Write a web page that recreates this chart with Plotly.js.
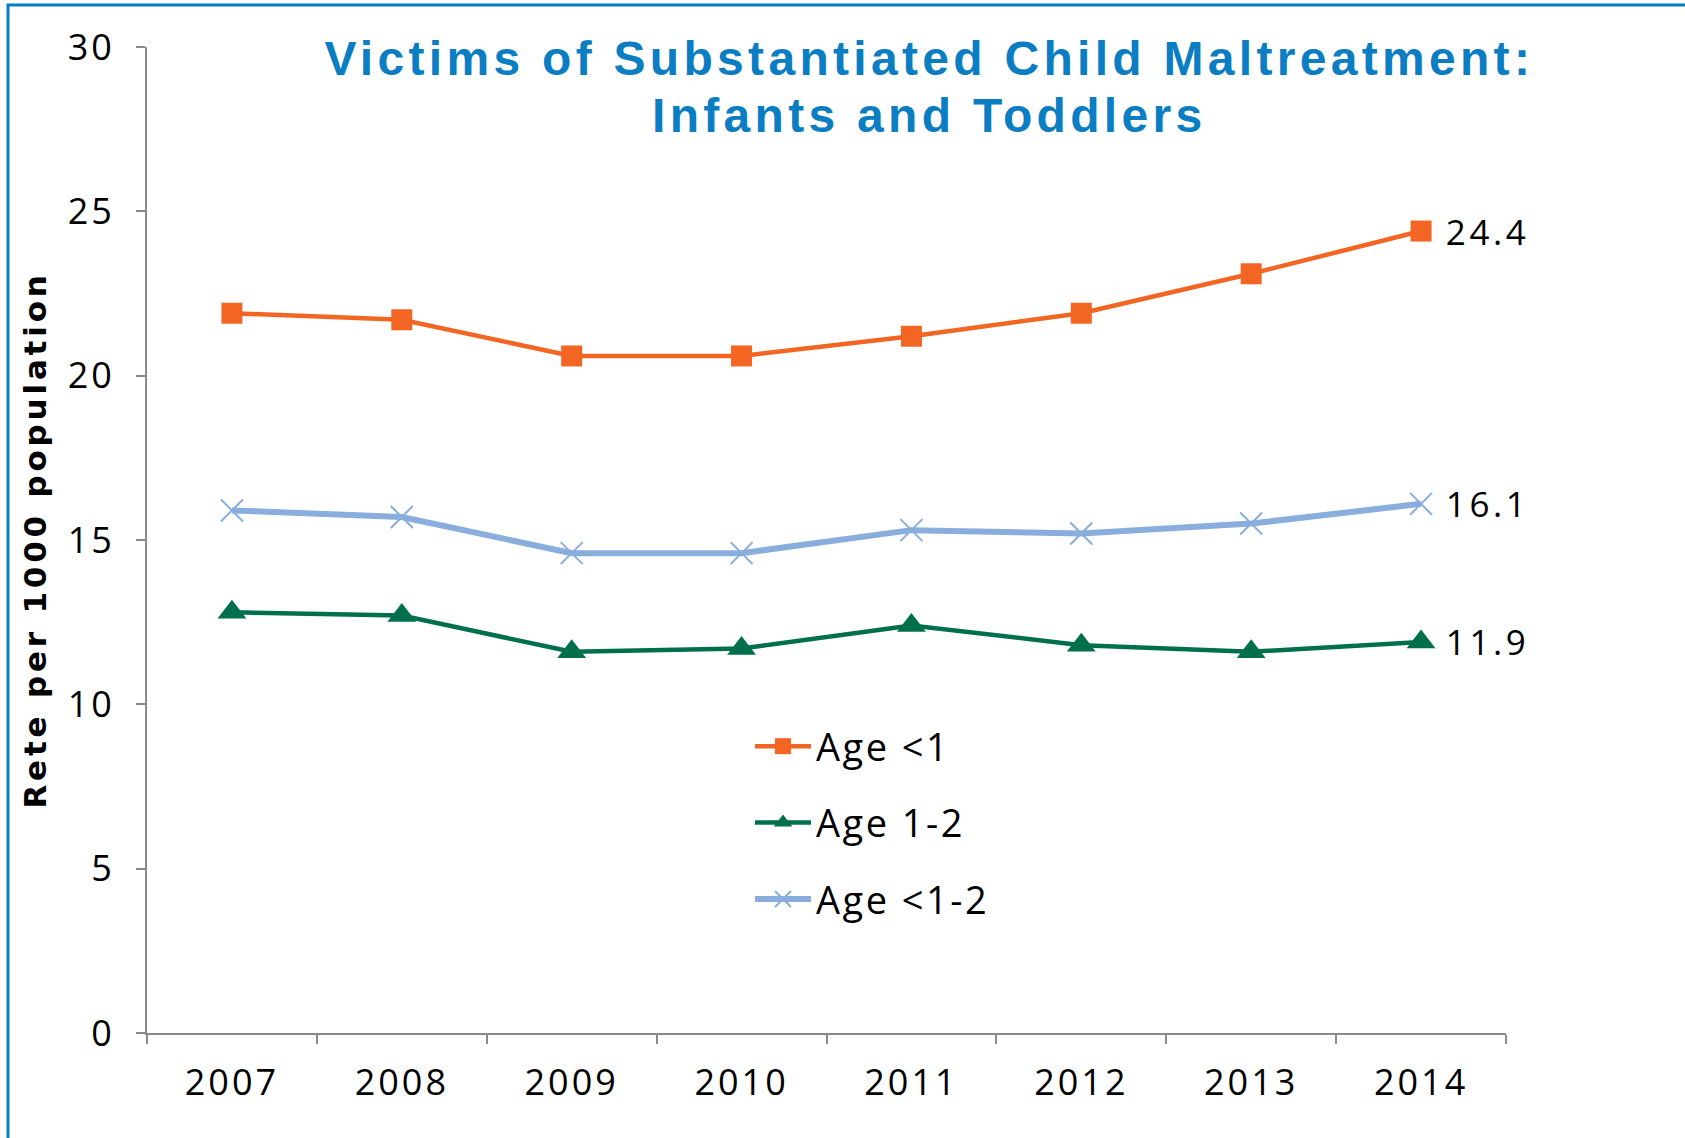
<!DOCTYPE html>
<html>
<head>
<meta charset="utf-8">
<script src="https://cdn.plot.ly/plotly-3.0.1.min.js"></script>
<style>
  html, body { margin: 0; padding: 0; background: #ffffff; }
  #chart { width: 1685px; height: 1138px; }
  /* the deck's typography is loosely tracked */
  .xtick text, .ytick text { letter-spacing: 3px; }
  .legendtext { letter-spacing: 2.5px; }
  .ytitle { letter-spacing: 3.8px; }
  .annotation.head-line .annotation-text { letter-spacing: 4.3px; }
  .annotation.end-value .annotation-text { letter-spacing: 3.6px; }
</style>
</head>
<body>
<div id="chart"></div>
<script>
// Substantiated child maltreatment victims, rate per 1000 population
const years = ['2007', '2008', '2009', '2010', '2011', '2012', '2013', '2014'];
const ageUnder1 = [21.9, 21.7, 20.6, 20.6, 21.2, 21.9, 23.1, 24.4];
const age1to2 = [12.8, 12.7, 11.6, 11.7, 12.4, 11.8, 11.6, 11.9];
const ageUnder1to2 = [15.9, 15.7, 14.6, 14.6, 15.3, 15.2, 15.5, 16.1];
const yTicks = [0, 5, 10, 15, 20, 25, 30];
const titleLines = ['Victims of Substantiated Child Maltreatment:', 'Infants and Toddlers'];

const W = 1685, H = 1138;
const M = { l: 147, r: 179, t: 47, b: 105 };
const plotW = W - M.l - M.r, plotH = H - M.t - M.b;
// pixel position -> paper fraction
const px = (x) => (x - M.l) / plotW;
const py = (y) => (H - M.b - y) / plotH;

const ORANGE = '#F26522', GREEN = '#00704C', BLUE = '#89ADDC', TITLE_BLUE = '#0A7DC3';
const axisGray = '#8A8A8A';
const baseFont = 'Open Sans, sans-serif';

const series = [
  { name: 'Age <1', values: ageUnder1, color: ORANGE, width: 4.5,
    marker: { symbol: 'square', size: 21, color: ORANGE } },
  { name: 'Age 1-2', values: age1to2, color: GREEN, width: 4.5,
    marker: { symbol: 'triangle-up', size: 25, color: GREEN } },
  { name: 'Age <1-2', values: ageUnder1to2, color: BLUE, width: 6,
    marker: { symbol: 'x-thin-open', size: 22, color: BLUE, line: { color: BLUE, width: 2 } } }
];

const traces = series.map((s, i) => ({
  x: years, y: s.values, name: s.name, legendgroup: 'g' + i,
  type: 'scatter', mode: 'lines+markers',
  line: { color: s.color, width: s.width },
  marker: s.marker,
  cliponaxis: false
}));

// value labels beside the last year of each series
// (category axes place annotations by category index)
const last = years.length - 1;
const valueLabels = series.map((s) => ({
  x: last, y: s.values[last], xref: 'x', yref: 'y',
  text: s.values[last].toFixed(1),
  showarrow: false, xanchor: 'left', yanchor: 'middle', xshift: 30,
  font: { family: baseFont, size: 35, color: '#000000' },
  cls: 'end-value'
}));

const titleAnnotations = titleLines.map((t, i) => ({
  x: px(929), y: py(i === 0 ? 58 : 116), xref: 'paper', yref: 'paper',
  text: t, showarrow: false, xanchor: 'center', yanchor: 'middle',
  font: { family: 'Liberation Sans, Arial, sans-serif', size: 48, color: TITLE_BLUE, weight: 'bold' },
  cls: 'head-line'
}));

const allAnnotations = titleAnnotations.concat(valueLabels);

const layout = {
  width: W,
  height: H,
  margin: M,
  paper_bgcolor: '#ffffff',
  plot_bgcolor: '#ffffff',
  showlegend: true,
  xaxis: {
    type: 'category',
    range: [-0.5, 7.5],
    tickson: 'boundaries',
    ticks: 'outside', ticklen: 9, tickwidth: 2, tickcolor: axisGray,
    showline: true, linecolor: axisGray, linewidth: 2,
    showgrid: false, zeroline: false,
    tickfont: { family: baseFont, size: 36, color: '#000000' },
    ticklabelstandoff: 17
  },
  yaxis: {
    range: [0, 30],
    tickvals: yTicks,
    ticks: 'outside', ticklen: 9, tickwidth: 2, tickcolor: axisGray,
    showline: true, linecolor: axisGray, linewidth: 2,
    showgrid: false, zeroline: false,
    tickfont: { family: baseFont, size: 36, color: '#000000' },
    ticklabelstandoff: 14,
    title: {
      text: 'Rete per 1000 population',
      font: { family: 'DejaVu Sans, sans-serif', size: 31, color: '#000000', weight: 'bold' },
      standoff: 12
    }
  },
  legend: {
    x: px(750), xanchor: 'left',
    y: py(715), yanchor: 'top',
    bgcolor: 'rgba(0,0,0,0)',
    font: { family: baseFont, size: 38, color: '#000000' },
    tracegroupgap: 24,
    itemwidth: 56
  },
  annotations: allAnnotations.map(({ cls, ...a }) => a),
  shapes: [
    // frame around the figure (top and left edges fall inside the page)
    {
      type: 'rect', xref: 'paper', yref: 'paper',
      x0: px(8), x1: 1.5,
      y0: -0.5, y1: py(5),
      line: { color: TITLE_BLUE, width: 3 },
      fillcolor: 'rgba(0,0,0,0)', layer: 'below'
    }
  ]
};

Plotly.newPlot('chart', traces, layout, { displayModeBar: false, staticPlot: true }).then((gd) => {
  // tag annotation groups so the stylesheet can track their letters
  gd.querySelectorAll('.annotation').forEach((g) => {
    const idx = +g.getAttribute('data-index');
    const a = allAnnotations[idx];
    if (a) g.classList.add(a.cls);
  });
});
</script>
</body>
</html>
